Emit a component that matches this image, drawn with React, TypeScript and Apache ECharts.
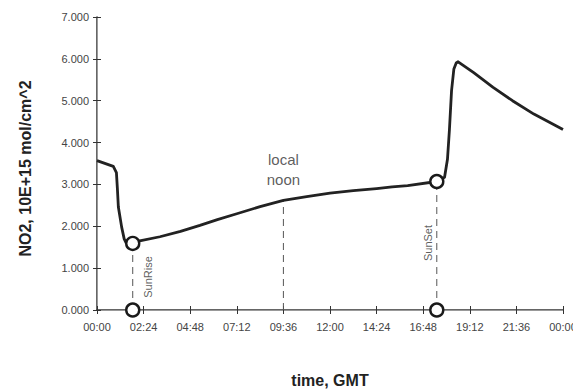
import React, { useEffect, useRef } from "react";
import * as echarts from "echarts";

const hours = [0, 0.84, 1.0, 1.05, 1.1, 1.27, 1.4, 1.5, 1.84, 2.2, 3.24, 4.3, 5.3, 6.2, 7.2, 8.4, 9.6, 10.8, 12.0, 13.2, 14.4, 15.2, 16.0, 17.5, 17.9, 18.05, 18.15, 18.26, 18.38, 18.5, 18.6, 19.4, 20.4, 21.4, 22.5, 24];
const no2 = [3.57, 3.43, 3.28, 2.9, 2.46, 1.98, 1.7, 1.6, 1.59, 1.65, 1.75, 1.88, 2.02, 2.16, 2.3, 2.47, 2.62, 2.71, 2.79, 2.85, 2.9, 2.94, 2.97, 3.07, 3.17, 3.6, 4.3, 5.24, 5.76, 5.9, 5.93, 5.67, 5.32, 5.0, 4.68, 4.31];
const xTickLabels = ["00:00", "02:24", "04:48", "07:12", "09:36", "12:00", "14:24", "16:48", "19:12", "21:36", "00:00"];
const sunRise = { hour: 1.84, value: 1.59 };
const sunSet = { hour: 17.5, value: 3.07 };
const noon = { hour: 9.6, value: 2.62 };

const FONT = "'Liberation Sans', Arial, sans-serif";

export default function App() {
  const ref = useRef<HTMLDivElement>(null);
  useEffect(() => {
    const chart = echarts.init(ref.current!, null, { renderer: "svg" });
    const dash = { color: "#555", width: 1, type: [7, 5] as any };
    const circle = {
      type: "scatter",
      symbol: "circle",
      symbolSize: 13,
      itemStyle: { color: "#fff", borderColor: "#1a1a1a", borderWidth: 2.4, opacity: 1 },
      z: 5,
    };
    chart.setOption({
      animation: false,
      grid: { left: 97, top: 17, right: 10, bottom: 79, outerBoundsMode: "none", containLabel: false },
      xAxis: [
        {
          type: "value", min: 0, max: 24, interval: 2.4, position: "bottom",
          name: "time, GMT", nameLocation: "middle", nameGap: 62,
          nameTextStyle: { fontFamily: FONT, fontSize: 16, fontWeight: "bold", color: "#222" },
          axisLine: { show: true, lineStyle: { color: "#333", width: 1.5 } },
          axisTick: { show: true, length: 4, lineStyle: { color: "#333" } },
          axisLabel: {
            margin: 11, fontFamily: FONT, fontSize: 11, color: "#444",
            formatter: (v: number) => xTickLabels[Math.round(v / 2.4)] ?? "",
          },
          splitLine: { show: false },
        },
        {
          type: "value", min: 0, max: 24, interval: 2.4, position: "bottom",
          axisLine: { show: false }, axisLabel: { show: false },
          axisTick: { show: true, inside: true, length: 4, lineStyle: { color: "#333" } },
          splitLine: { show: false },
        },
        {
          type: "value", min: 0, max: 24, position: "top",
          axisLine: { show: true, lineStyle: { color: "#999", width: 1 } },
          axisLabel: { show: false }, axisTick: { show: false }, splitLine: { show: false },
        },
      ],
      yAxis: [
        {
          type: "value", min: 0, max: 7, interval: 1, position: "left",
          name: "NO2, 10E+15 mol/cm^2", nameLocation: "middle", nameGap: 64,
          nameTextStyle: { fontFamily: FONT, fontSize: 16, fontWeight: "bold", color: "#222", padding: [0, 10, 0, 0] },
          axisLine: { show: true, lineStyle: { color: "#333", width: 1.5 } },
          axisTick: { show: true, length: 4, lineStyle: { color: "#333" } },
          axisLabel: {
            margin: 8, fontFamily: FONT, fontSize: 11, color: "#444",
            formatter: (v: number) => v.toFixed(3),
          },
          splitLine: { show: false },
        },
        {
          type: "value", min: 0, max: 7, interval: 1, position: "left",
          axisLine: { show: false }, axisLabel: { show: false },
          axisTick: { show: true, inside: true, length: 4, lineStyle: { color: "#333" } },
          splitLine: { show: false },
        },
        {
          type: "value", min: 0, max: 7, position: "right",
          axisLine: { show: true, lineStyle: { color: "#999", width: 1 } },
          axisLabel: { show: false }, axisTick: { show: false }, splitLine: { show: false },
        },
      ],
      series: [
        {
          type: "line",
          data: hours.map((h, i) => [h, no2[i]]),
          showSymbol: false,
          smooth: false,
          lineStyle: { color: "#222", width: 2.8, join: "round" },
          z: 3,
        },
        {
          type: "line", showSymbol: false, lineStyle: dash, z: 2,
          data: [[sunRise.hour, 0], [sunRise.hour, sunRise.value]],
        },
        {
          type: "line", showSymbol: false, lineStyle: dash, z: 2,
          data: [[noon.hour, 0], [noon.hour, noon.value]],
        },
        {
          type: "line", showSymbol: false, lineStyle: dash, z: 2,
          data: [[sunSet.hour, 0], [sunSet.hour, sunSet.value]],
        },
        {
          ...circle,
          data: [[sunRise.hour, sunRise.value], [sunRise.hour, 0], [sunSet.hour, sunSet.value], [sunSet.hour, 0]],
        },
        {
          type: "scatter", symbolSize: 0, silent: true,
          data: [
            { value: [sunRise.hour, 0.79], label: { show: true, formatter: "SunRise", rotate: 90, offset: [0, 15], position: "inside", fontFamily: FONT, fontSize: 11, color: "#333" } },
            { value: [sunSet.hour, 1.6], label: { show: true, formatter: "SunSet", rotate: 90, offset: [0, -9], position: "inside", fontFamily: FONT, fontSize: 11, color: "#333" } },
            { value: [noon.hour, 3.36], label: { show: true, formatter: "local\nnoon", position: "inside", lineHeight: 20, fontFamily: FONT, fontSize: 15, color: "#333" } },
          ],
        },
      ],
    });
    return () => chart.dispose();
  }, []);
  return <div ref={ref} style={{ width: 573, height: 389, position: "absolute", left: 0, top: 0, background: "#fff" }} />;
}
